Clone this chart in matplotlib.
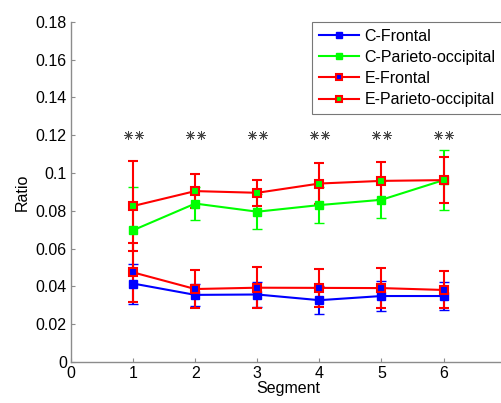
import matplotlib
matplotlib.use("Agg")
import matplotlib.pyplot as plt
from matplotlib.lines import Line2D
import numpy as np

plt.rcParams['font.family'] = ['Liberation Sans', 'DejaVu Sans']

segments = [1, 2, 3, 4, 5, 6]
c_frontal = [0.0415, 0.0355, 0.0357, 0.0327, 0.0349, 0.0349]
c_frontal_err = [0.0106, 0.0060, 0.0066, 0.0073, 0.0077, 0.0076]
c_parieto = [0.0697, 0.0838, 0.0795, 0.0830, 0.0858, 0.0962]
c_parieto_err = [0.0228, 0.0089, 0.0094, 0.0094, 0.0097, 0.0160]
e_frontal = [0.0474, 0.0386, 0.0393, 0.0392, 0.0391, 0.0381]
e_frontal_err = [0.0157, 0.0103, 0.0108, 0.0102, 0.0105, 0.0098]
e_parieto = [0.0825, 0.0904, 0.0895, 0.0944, 0.0958, 0.0962]
e_parieto_err = [0.0237, 0.0092, 0.0068, 0.0108, 0.0099, 0.0120]
sig_level = 0.12
yticks = [0, 0.02, 0.04, 0.06, 0.08, 0.1, 0.12, 0.14, 0.16, 0.18]
ytick_labels = ['0', '0.02', '0.04', '0.06', '0.08', '0.1', '0.12', '0.14', '0.16', '0.18']
xticks = [0, 1, 2, 3, 4, 5, 6]

fig = plt.figure(figsize=(5.01, 4.03), dpi=100)
ax = fig.add_axes([71/501, 41/403, 7*62.1/501, (362-21.7)/403])

RED = '#ff0000'
BLUE = '#0000ff'
GREEN = '#00ff00'

handles = []
def series(y, err, line_col, face, edge, ms, mew, label):
    ax.errorbar(segments, y, yerr=err, color=line_col, lw=1.5, elinewidth=1.5,
                capsize=3.5, capthick=1.5, marker='s', ms=ms, mfc=face, mec=edge,
                mew=mew)
    handles.append(Line2D([], [], color=line_col, lw=1.5, marker='s', ms=ms - 1,
                          mfc=face, mec=edge, mew=mew, label=label))

series(c_frontal, c_frontal_err, BLUE, BLUE, BLUE, 5.5, 1, 'C-Frontal')
series(c_parieto, c_parieto_err, GREEN, GREEN, GREEN, 5.5, 1, 'C-Parieto-occipital')
series(e_frontal, e_frontal_err, RED, BLUE, RED, 5.5, 1.5, 'E-Frontal')
series(e_parieto, e_parieto_err, RED, GREEN, RED, 5.5, 1.5, 'E-Parieto-occipital')

seg = np.array(segments, dtype=float)
for off in (-0.09, 0.09):
    ax.plot(seg + off, [sig_level] * len(segments), linestyle='none',
            marker=(8, 2, 0), ms=6.5, mew=0.6, color='#444444')

ax.set_xlim(0, 7)
ax.set_ylim(0, 0.18)
ax.set_xticks(xticks)
ax.set_yticks(yticks)
ax.set_yticklabels(ytick_labels)
ax.spines['top'].set_visible(False)
ax.spines['right'].set_visible(False)
for s in ('left', 'bottom'):
    ax.spines[s].set_color('#8c8c8c')
    ax.spines[s].set_linewidth(1.0)
ax.tick_params(direction='in', length=3, color='#8c8c8c', labelsize=11.5, pad=3)
ax.set_xlabel('Segment', fontsize=11.5, labelpad=0)
ax.set_ylabel('Ratio', fontsize=11.5, labelpad=4)

leg = ax.legend(handles=handles, loc='upper left', bbox_to_anchor=(312/501, 1 - 21.7/403),
                bbox_transform=fig.transFigure, fontsize=11.5, frameon=True,
                fancybox=False, borderpad=0.45, handlelength=2.5, labelspacing=0.38,
                handletextpad=0.35, borderaxespad=0)
leg.get_frame().set_edgecolor('#555555')
leg.get_frame().set_linewidth(0.8)

fig.savefig('out.png', dpi=100)
